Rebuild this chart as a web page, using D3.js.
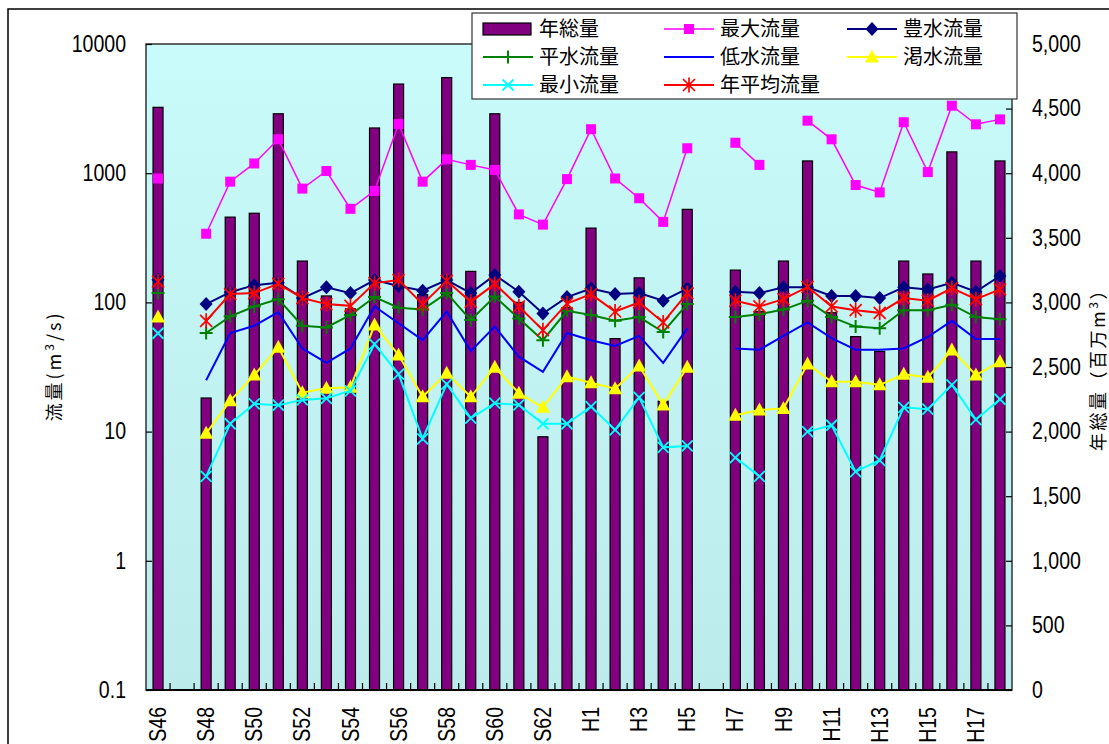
<!DOCTYPE html>
<html>
<head>
<meta charset="utf-8">
<script src="https://cdn.jsdelivr.net/npm/d3@7/dist/d3.min.js"></script>
<style>
  body { margin: 0; background: #ffffff; }
  svg { display: block; }
</style>
</head>
<body>
<div id="svg-container"></div>
<script>

// Categories : years, Showa 46 .. Heisei 18

var categories = ["S46","S47","S48","S49","S50","S51","S52","S53","S54","S55","S56","S57",
    "S58","S59","S60","S61","S62","S63","H1","H2","H3","H4","H5","H6","H7","H8","H9",
    "H10","H11","H12","H13","H14","H15","H16","H17","H18"];

// Bar series : 年総量 (million m3, right axis)

var totalVolume = [4510,null,2260,3660,3690,4460,3320,3050,2950,4350,4690,3060,
    4740,3240,4460,3000,1960,2960,3575,2720,3190,2235,3720,null,3250,2930,3320,
    4095,2920,2735,2620,3320,3220,4165,3320,4095];

// Line series : flow (m3/s, left log axis)

var maxFlow = [910,null,340,860,1190,1830,760,1040,530,730,2400,860,
    1280,1160,1060,480,400,900,2190,910,640,420,1560,null,1720,1160,null,
    2550,1830,810,710,2480,1020,3330,2390,2610];

var highFlow = [150,null,97,120,136,142,108,131,118,149,134,123,
    149,118,163,121,82,110,128,116,118,103,128,null,121,118,131,
    131,112,112,108,131,126,142,121,160];

var normalFlow = [118,null,58,78,93,106,66,64,80,110,91,88,
    118,73,111,75,51,86,80,72,77,59,97,null,77,81,88,
    103,77,65,63,87,87,96,77,74];

var lowFlow = [null,null,25,58,66,84,44,34,44,93,69,51,
    85,42,65,38,29,58,51,46,55,34,63,null,44,43,55,
    70,53,43,43,44,54,72,52,52];

var droughtFlow = [77,null,9.7,17.3,27.4,44.9,20.0,21.7,22.0,66.8,39.2,18.6,
    28.3,18.6,31.5,19.8,15.4,26.6,23.9,21.5,32.2,16.1,31.5,null,13.4,14.7,15.1,
    33.4,24.3,24.3,23.0,27.8,26.3,42.8,27.4,34.8];

var minFlow = [57.7,null,4.5,11.5,16.4,16.0,17.6,18.1,20.7,47.6,27.9,8.8,
    23.3,12.7,16.6,16.1,11.5,11.5,15.6,10.3,18.4,7.55,7.74,null,6.3,4.5,null,
    10.0,11.2,4.9,6.0,15.4,14.9,23.0,12.4,17.8];

var meanFlow = [145,null,72,116,118,139,108,97,94,141,149,97,
    147,101,139,93,61,98,116,85,100,70,118,null,103,93,106,
    132,93,87,83,108,103,129,106,126];

var leftTicks = [0.1, 1, 10, 100, 1000, 10000];
var rightTicks = [0,500,1000,1500,2000,2500,3000,3500,4000,4500,5000];

var seriesList = [
    { name: "最大流量", values: maxFlow, color: "#ff00ff", marker: "square", lw: 1.5 },
    { name: "豊水流量", values: highFlow, color: "#000080", marker: "diamond", lw: 2 },
    { name: "平水流量", values: normalFlow, color: "#008000", marker: "plus", lw: 2 },
    { name: "低水流量", values: lowFlow, color: "#0000ff", marker: "none", lw: 2 },
    { name: "渇水流量", values: droughtFlow, color: "#ffff00", marker: "triangle", lw: 2 },
    { name: "最小流量", values: minFlow, color: "#00ffff", marker: "cross", lw: 2 },
    { name: "年平均流量", values: meanFlow, color: "#ff0000", marker: "star", lw: 2 }
];

var width = 1109,
    height = 744;

var plotLeft = 146, plotRight = 1012, plotTop = 44, plotBottom = 690;

var numFont = "'Liberation Sans', Arial, sans-serif";
var jpFont = "'Noto Sans CJK JP', 'Noto Sans', sans-serif";
var squeeze = 0.85;   // numbers in the original are drawn in a narrow face

// Create the SVG Container.

var svg = d3.select("#svg-container")
    .append("svg")
    .attr("width", width)
    .attr("height", height);

// Background gradient of the plot area

var gradient = svg.append("defs")
    .append("linearGradient")
    .attr("id", "plotbg")
    .attr("x1", "0%").attr("y1", "0%")
    .attr("x2", "0%").attr("y2", "100%");

gradient.append("stop").attr("offset", "0%").attr("stop-color", "#c8fbfa");
gradient.append("stop").attr("offset", "100%").attr("stop-color", "#bcebeb");

// Outer chart frame

svg.append("rect")
    .attr("x", 8).attr("y", 9)
    .attr("width", 1200).attr("height", 800)
    .attr("fill", "#ffffff")
    .attr("stroke", "#000000")
    .attr("stroke-width", 1.5);

// Scales

var x = d3.scaleBand()
    .domain(categories)
    .range([plotLeft, plotRight]);

var yLeft = d3.scaleLog()
    .domain([0.1, 10000])
    .range([plotBottom, plotTop]);

var yRight = d3.scaleLinear()
    .domain([0, 5000])
    .range([plotBottom, plotTop]);

function cx(i) { return x(categories[i]) + x.bandwidth() / 2; }

// Plot area

svg.append("rect")
    .attr("x", plotLeft).attr("y", plotTop)
    .attr("width", plotRight - plotLeft).attr("height", plotBottom - plotTop)
    .attr("fill", "url(#plotbg)");

// Bars

var barW = 10;

svg.append("g").selectAll("rect")
    .data(totalVolume.map(function(v, i) { return { v: v, i: i }; }).filter(function(d) { return d.v != null; }))
    .enter().append("rect")
    .attr("x", function(d) { return cx(d.i) - barW / 2; })
    .attr("y", function(d) { return yRight(d.v); })
    .attr("width", barW)
    .attr("height", function(d) { return plotBottom - yRight(d.v); })
    .attr("fill", "#800080")
    .attr("stroke", "#000000")
    .attr("stroke-width", 1.2);

// Marker drawing

function drawMarker(g, type, color) {
    if (type == "square") {
        g.append("rect").attr("x", -5).attr("y", -5).attr("width", 10).attr("height", 10)
            .attr("fill", color);
    } else if (type == "diamond") {
        g.append("path").attr("d", "M0,-7L6.5,0L0,7L-6.5,0Z").attr("fill", color);
    } else if (type == "triangle") {
        g.append("path").attr("d", "M0,-7.5L7,5.5L-7,5.5Z").attr("fill", color);
    } else if (type == "plus") {
        g.append("path").attr("d", "M-6.5,0H6.5M0,-6.5V6.5").attr("stroke", color).attr("stroke-width", 2);
    } else if (type == "cross") {
        g.append("path").attr("d", "M-5.5,-5.5L5.5,5.5M-5.5,5.5L5.5,-5.5").attr("stroke", color).attr("stroke-width", 1.8);
    } else if (type == "star") {
        g.append("path").attr("d", "M-6,-6L6,6M-6,6L6,-6M0,-7.5V7.5")
            .attr("stroke", color).attr("stroke-width", 1.7);
    }
}

// Lines

var lineGen = d3.line()
    .defined(function(d) { return d != null; })
    .x(function(d, i) { return cx(i); })
    .y(function(d) { return yLeft(d); });

seriesList.forEach(function(s) {
    var g = svg.append("g");
    g.append("path")
        .datum(s.values)
        .attr("d", lineGen)
        .attr("fill", "none")
        .attr("stroke", s.color)
        .attr("stroke-width", s.lw);
    if (s.marker != "none") {
        g.selectAll("g.m")
            .data(s.values.map(function(v, i) { return { v: v, i: i }; }).filter(function(d) { return d.v != null; }))
            .enter().append("g")
            .attr("class", "m")
            .attr("transform", function(d) { return "translate(" + cx(d.i) + "," + yLeft(d.v) + ")"; })
            .each(function() { drawMarker(d3.select(this), s.marker, s.color); });
    }
});

// Plot border

svg.append("rect")
    .attr("x", plotLeft).attr("y", plotTop)
    .attr("width", plotRight - plotLeft).attr("height", plotBottom - plotTop)
    .attr("fill", "none")
    .attr("stroke", "#333333")
    .attr("stroke-width", 1.5);

// Left axis (log)

var leftAxis = svg.append("g")
    .attr("transform", "translate(" + plotLeft + ",0)")
    .call(d3.axisLeft(yLeft)
        .tickValues(leftTicks)
        .tickSize(-6)
        .tickPadding(20)
        .tickFormat(function(d) { return String(d); }));

// Right axis

var rightAxis = svg.append("g")
    .attr("transform", "translate(" + plotRight + ",0)")
    .call(d3.axisRight(yRight)
        .tickValues(rightTicks)
        .tickSize(-6)
        .tickPadding(20)
        .tickFormat(d3.format(",")));

[leftAxis, rightAxis].forEach(function(a, k) {
    a.select(".domain").remove();
    a.selectAll(".tick line").attr("stroke", "#000000").attr("stroke-width", 1.2);
    a.selectAll("text")
        .attr("font-family", numFont)
        .attr("font-size", "23px")
        .attr("fill", "#000000")
        .attr("x", (k == 0 ? -20 : 20) / squeeze)
        .attr("transform", "scale(" + squeeze + ",1)");
});

// X axis : ticks at category boundaries, labels every other year

var xAxis = svg.append("g");

xAxis.selectAll("line.tick")
    .data(categories.slice(1))
    .enter().append("line")
    .attr("class", "tick")
    .attr("x1", function(d) { return x(d); })
    .attr("x2", function(d) { return x(d); })
    .attr("y1", plotBottom)
    .attr("y2", plotBottom - 7)
    .attr("stroke", "#000000")
    .attr("stroke-width", 1.2);

xAxis.append("line")
    .attr("x1", plotLeft).attr("x2", plotRight)
    .attr("y1", plotBottom).attr("y2", plotBottom)
    .attr("stroke", "#000000")
    .attr("stroke-width", 2);

xAxis.selectAll("text")
    .data(categories.filter(function(d, i) { return i % 2 == 0; }))
    .enter().append("text")
    .attr("transform", function(d) {
        return "translate(" + (x(d) + x.bandwidth() / 2) + ",707) rotate(-90) scale(" + squeeze + ",1)";
    })
    .attr("text-anchor", "end")
    .attr("dy", "0.35em")
    .attr("font-family", numFont)
    .attr("font-size", "23px")
    .attr("fill", "#000000")
    .text(function(d) { return d; });

// Axis titles

var leftTitle = svg.append("text")
    .attr("transform", "translate(55,366) rotate(-90)")
    .attr("text-anchor", "middle")
    .attr("dy", "0.35em")
    .attr("font-family", jpFont)
    .attr("font-size", "18px")
    .attr("letter-spacing", "3px")
    .attr("fill", "#000000");
leftTitle.append("tspan").text("流量(m");
leftTitle.append("tspan").attr("dy", "-7").attr("font-size", "12px").text("3");
leftTitle.append("tspan").attr("dy", "7").text("/s)");

var rightTitle = svg.append("text")
    .attr("transform", "translate(1099,365) rotate(-90)")
    .attr("text-anchor", "middle")
    .attr("dy", "0.35em")
    .attr("font-family", jpFont)
    .attr("font-size", "18px")
    .attr("letter-spacing", "2.5px")
    .attr("fill", "#000000");
rightTitle.append("tspan").text("年総量（百万m");
rightTitle.append("tspan").attr("dy", "-7").attr("font-size", "12px").text("3");
rightTitle.append("tspan").attr("dy", "7").text("）");

// Legend

var legend = svg.append("g");

legend.append("rect")
    .attr("x", 472).attr("y", 13)
    .attr("width", 545).attr("height", 86)
    .attr("fill", "#ffffff")
    .attr("stroke", "#333333")
    .attr("stroke-width", 1.2);

var legendItems = [{ name: "年総量", bar: true }].concat(seriesList);
var colX = [483, 664, 847];
var rowY = [29, 57, 85];

legendItems.forEach(function(s, k) {
    var lx = colX[k % 3], ly = rowY[Math.floor(k / 3)];
    var g = legend.append("g");
    if (s.bar) {
        g.append("rect")
            .attr("x", lx).attr("y", ly - 6)
            .attr("width", 48).attr("height", 12)
            .attr("fill", "#800080")
            .attr("stroke", "#000000")
            .attr("stroke-width", 1.2);
    } else {
        g.append("line")
            .attr("x1", lx).attr("x2", lx + 50)
            .attr("y1", ly).attr("y2", ly)
            .attr("stroke", s.color)
            .attr("stroke-width", s.lw);
        drawMarker(g.append("g").attr("transform", "translate(" + (lx + 25) + "," + ly + ")"), s.marker, s.color);
    }
    g.append("text")
        .attr("x", lx + 56)
        .attr("y", ly)
        .attr("dy", "0.35em")
        .attr("font-family", jpFont)
        .attr("font-size", "20px")
        .attr("fill", "#000000")
        .text(s.name);
});

</script>
</body>
</html>
